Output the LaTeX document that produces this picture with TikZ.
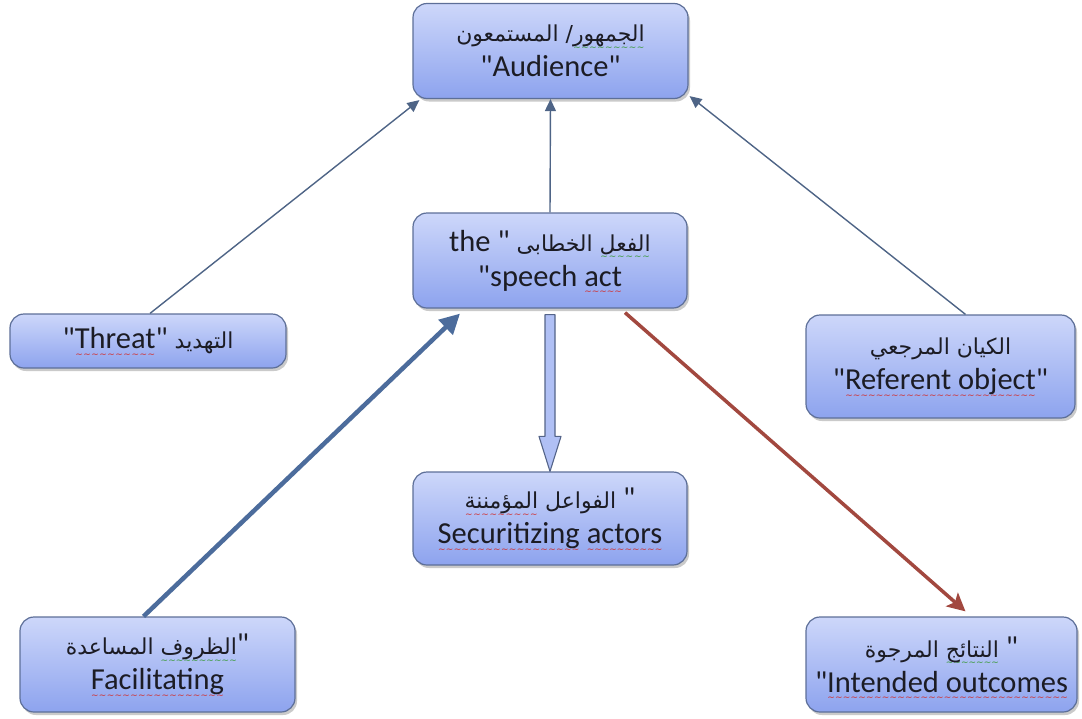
\documentclass[tikz,border=0pt]{standalone}
\usepackage{fontspec}
\setmainfont{Carlito}[Ligatures=TeXOff]
\newfontfamily\arabicfont[Script=Arabic,Scale=0.72]{DejaVu Sans}
\newfontfamily\wavefont{DejaVu Sans}
\usetikzlibrary{arrows.meta,shadows,calc}
\definecolor{boxtop}{HTML}{CDD7FA}
\definecolor{boxbot}{HTML}{8DA3EE}
\definecolor{boxline}{HTML}{5D6F98}
\definecolor{thinarr}{HTML}{4E6486}
\definecolor{thickarr}{HTML}{4C6C9C}
\definecolor{redarr}{HTML}{A2483F}
\definecolor{txt}{HTML}{1C1C24}
\definecolor{sqred}{HTML}{D03030}
\definecolor{sqgreen}{HTML}{3A9A3A}
\newcommand\sqwave[2]{\hbox{\setbox0\hbox{#2}\rlap{\raisebox{-8.5pt}[0pt][0pt]{\textcolor{#1}{\wavefont\fontsize{9}{9}\selectfont\hbox to \wd0{\xleaders\hbox{\char"007E}\hfill}}}}\box0}}
\newcommand\rwave[1]{\sqwave{sqred}{#1}}
\newcommand\gwave[1]{\sqwave{sqgreen}{#1}}
\newcommand\arw[1]{{\arabicfont #1}}
\tikzset{
  box/.style={draw=boxline, line width=1.2pt, rounded corners=14pt,
    top color=boxtop, bottom color=boxbot, text=txt, align=center,
    font=\fontsize{30.5}{35}\selectfont, inner sep=2pt,
    drop shadow={shadow xshift=2pt, shadow yshift=-3pt, opacity=0.35, fill=black!60}},
  thinline/.style={draw=thinarr, line width=1.4pt, -{Triangle[length=12pt,width=11pt]}},
  thickline/.style={draw=thickarr, line width=4.5pt, -{Triangle[length=20pt,width=20pt]}},
  redline/.style={draw=redarr, line width=3.5pt, -{Stealth[length=18pt,width=18pt,inset=4pt]}},
  blockarrow/.style={draw=boxline!90!black, line width=1.1pt, fill=boxtop!55!boxbot, line join=round},
}
\begin{document}
\begin{tikzpicture}[x=1pt,y=-1pt]
\useasboundingbox (0,0) rectangle (1082,718);
\node[box, minimum width=275pt, minimum height=95pt] (aud) at (550.5,51)
  {\arw{المستمعون} \arw{/}\gwave{\arw{الجمهور}}\\"Audience"};
\node[box, minimum width=274pt, minimum height=95pt] (sa) at (550,260.5)
  {the " \arw{الخطابى} \gwave{\arw{الفعل}}\\"speech \rwave{act}};
\node[box, minimum width=276pt, minimum height=54pt] (thr) at (148,341)
  {"\rwave{Threat}" \arw{التهديد}};
\node[box, minimum width=269pt, minimum height=103pt] (ref) at (940.5,366.5)
  {\arw{المرجعي} \arw{الكيان}\\"\rwave{Referent object}"};
\node[box, minimum width=274pt, minimum height=93pt] (sec) at (550,518.5)
  {\rwave{\arw{المؤمننة}} \arw{الفواعل} "\\\rwave{Securitizing} \rwave{actors}};
\node[box, minimum width=275pt, minimum height=95pt] (fac) at (157.5,664.5)
  {\arw{المساعدة} \gwave{\arw{الظروف}}"\\\rwave{Facilitating}};
\node[box, minimum width=271pt, minimum height=95pt] (int) at (941.5,664.5)
  {\arw{المرجوة} \gwave{\arw{النتائج}} "\\"\rwave{Intended outcomes}};
% connectors
\draw[thinline] ($(thr.north)+(2,0)$) -- ($(aud.south west)+(7,1)$);
\draw[thinline] (sa.north) -- (aud.south);
\draw[thinline] ($(ref.north)+(25,0)$) -- ($(aud.south east)+(1,-3)$);
\draw[thickline] ($(fac.north)+(-14,0)$) -- ($(sa.south)+(-90,5)$);
\draw[redline] ($(sa.south)+(75,4)$) -- ($(int.north)+(24,-5)$);
\coordinate (bs) at ($(sa.south)+(0,6)$);
\coordinate (be) at (sec.north);
\draw[blockarrow] ($(bs)+(-5,0)$) -- ($(be)+(-5,-35)$) -- ($(be)+(-11,-35)$) -- (be)
  -- ($(be)+(11,-35)$) -- ($(be)+(5,-35)$) -- ($(bs)+(5,0)$) -- cycle;
\end{tikzpicture}
\end{document}
